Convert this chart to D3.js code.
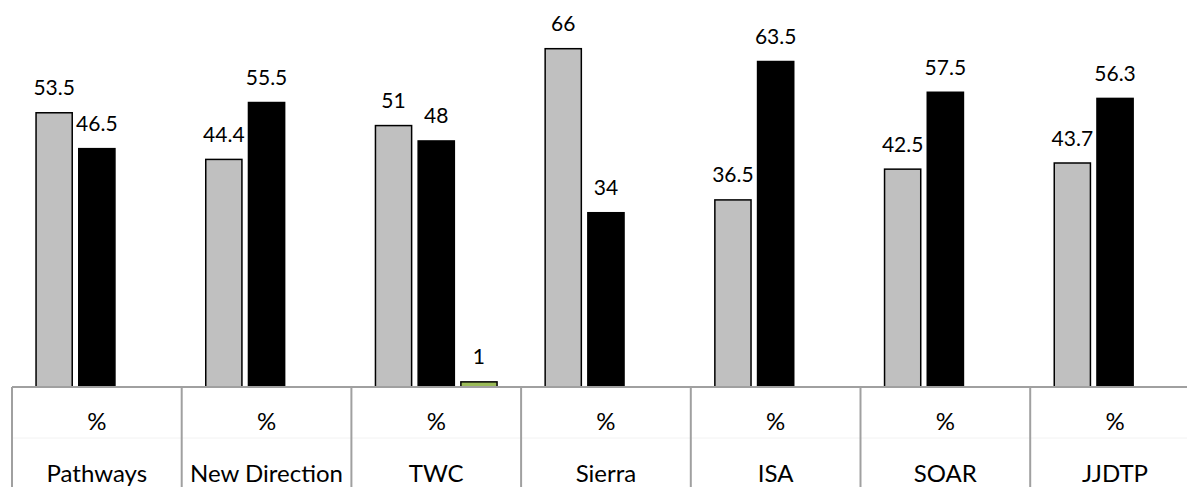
<!DOCTYPE html>
<html>
<head>
<meta charset="utf-8">
<script src="https://cdn.jsdelivr.net/npm/d3@7"></script>
<style>
  html, body { margin: 0; padding: 0; background: #fff; }
  svg { display: block; }
  text { font-family: Lato, "Open Sans", sans-serif; fill: #000; }
</style>
</head>
<body>
<svg id="chart" width="1187" height="487"></svg>
<script>
// Programme names and the unit row shown under each group
const categories = ["Pathways", "New Direction", "TWC", "Sierra", "ISA", "SOAR", "JJDTP"];
const unitLabels = ["%", "%", "%", "%", "%", "%", "%"];
const seriesNames = ["s1", "s2", "s3"];
// Percentages per programme (null = no bar)
const series1 = [53.5, 44.4, 51, 66, 36.5, 42.5, 43.7];
const series2 = [46.5, 55.5, 48, 34, 63.5, 57.5, 56.3];
const series3 = [null, null, 1, null, null, null, null];
const seriesColors = ["#c0c0c0", "#000000", "#9bbb59"];

const svg = d3.select("#chart");
const W = 1187, H = 487;
const left = 12, catW = 169.7, baseY = 387;

const x0 = d3.scaleBand().domain(categories).range([left, left + catW * categories.length]).padding(0);
const x1 = d3.scaleBand().domain(seriesNames).range([catW / 2 - 60.8, catW / 2 + 60.8]).paddingInner(0.153).paddingOuter(0);
const y = d3.scaleLinear().domain([0, 75.5]).range([baseY, 0]);

const values = [series1, series2, series3];
const rows = [];
categories.forEach((c, i) => {
  seriesNames.forEach((s, j) => {
    const v = values[j][i];
    if (v !== null && v !== undefined) rows.push({ cat: c, s, j, v });
  });
});

// Bars
svg.append("g").selectAll("rect").data(rows).join("rect")
  .attr("x", d => x0(d.cat) + x1(d.s))
  .attr("y", d => y(d.v))
  .attr("width", x1.bandwidth())
  .attr("height", d => baseY - y(d.v))
  .attr("fill", d => seriesColors[d.j])
  .attr("stroke", "#000")
  .attr("stroke-width", 1.5);

// Value labels above each bar
svg.append("g").selectAll("text").data(rows).join("text")
  .attr("x", d => x0(d.cat) + x1(d.s) + x1.bandwidth() / 2)
  .attr("y", d => y(d.v) - 17.5)
  .attr("text-anchor", "middle")
  .attr("font-size", 21)
  .text(d => d.v);

// Category table under the axis
const table = svg.append("g");
table.append("line")
  .attr("x1", left).attr("x2", W).attr("y1", baseY).attr("y2", baseY)
  .attr("stroke", "#a0a0a0").attr("stroke-width", 2);
table.append("line")
  .attr("x1", left).attr("x2", W).attr("y1", 438).attr("y2", 438)
  .attr("stroke", "#f2f2f2").attr("stroke-width", 1);
table.selectAll("line.sep").data(categories).join("line")
  .attr("class", "sep")
  .attr("x1", d => x0(d)).attr("x2", d => x0(d))
  .attr("y1", baseY).attr("y2", H)
  .attr("stroke", "#a0a0a0").attr("stroke-width", 2);
table.selectAll("text.unit").data(categories).join("text")
  .attr("class", "unit")
  .attr("x", d => x0(d) + catW / 2)
  .attr("y", 430)
  .attr("text-anchor", "middle")
  .attr("font-size", 24)
  .text((d, i) => unitLabels[i]);
table.selectAll("text.cat").data(categories).join("text")
  .attr("class", "cat")
  .attr("x", d => x0(d) + catW / 2)
  .attr("y", 482)
  .attr("text-anchor", "middle")
  .attr("font-size", 24)
  .text(d => d);
</script>
</body>
</html>
